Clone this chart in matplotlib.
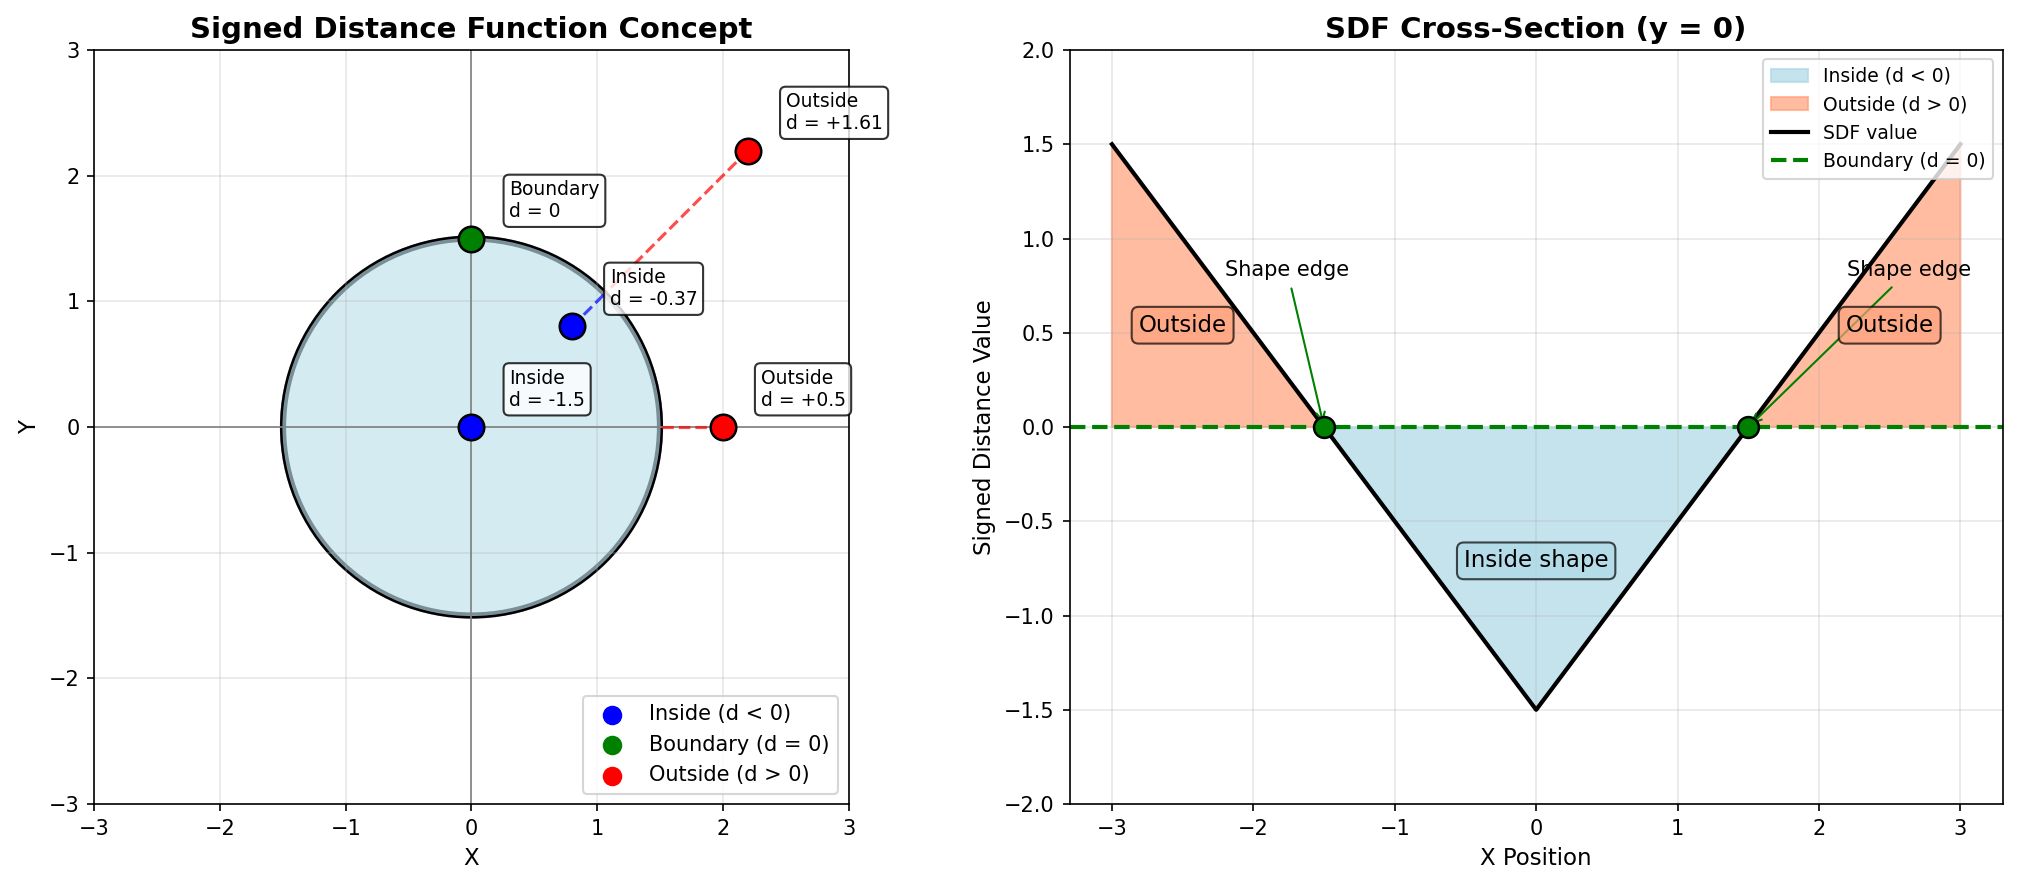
import numpy as np
import matplotlib
matplotlib.use("Agg")
import matplotlib.pyplot as plt
from matplotlib.patches import Circle

# Left panel: circle of radius 1.5 and sample points
radius = 1.5
pt_x = [0.0, 0.8, 0.0, 2.0, 2.2]
pt_y = [0.0, 0.8, 1.5, 0.0, 2.2]
pt_colors = ['blue', 'blue', 'green', 'red', 'red']
pt_labels = ['Inside\nd = -1.5', 'Inside\nd = -0.37', 'Boundary\nd = 0',
             'Outside\nd = +0.5', 'Outside\nd = +1.61']

# Right panel: cross-section at y = 0
x_pos = [-3.0, -1.5, 0.0, 1.5, 3.0]
sdf_vals = [1.5, 0.0, -1.5, 0.0, 1.5]
edge_x = [-1.5, 1.5]
edge_y = [0.0, 0.0]

fig = plt.figure(figsize=(13.453, 5.9), dpi=150)
ax1 = fig.add_axes([0.0461, 0.0915, 0.3751, 0.852])
ax2 = fig.add_axes([0.530, 0.0915, 0.4625, 0.852])

# --- grafico 1
ax1.add_patch(Circle((0, 0), radius, facecolor='lightblue', edgecolor='#1d3440',
                     linewidth=3, alpha=0.5))
ax1.add_patch(Circle((0, 0), radius + 0.014, fill=False, edgecolor='black', linewidth=1.2))
ax1.axhline(0, color='gray', linewidth=0.8)
ax1.axvline(0, color='gray', linewidth=0.8)

for x, y, c, lab in zip(pt_x, pt_y, pt_colors, pt_labels):
    r = np.hypot(x, y)
    if r > 0 and abs(r - radius) > 1e-6:
        bx, by = x / r * radius, y / r * radius
        ax1.plot([x, bx], [y, by], '--', color=c, alpha=0.7, linewidth=1.5)
    ax1.scatter([x], [y], s=150, c=c, edgecolors='black', linewidths=1.2, zorder=5)
    ax1.text(x + 0.3, y + 0.3, lab, fontsize=9, ha='left', va='center',
             bbox=dict(boxstyle='round,pad=0.3', facecolor='white', alpha=0.8))

ax1.scatter([], [], s=70, c='blue', label='Inside (d < 0)')
ax1.scatter([], [], s=70, c='green', label='Boundary (d = 0)')
ax1.scatter([], [], s=70, c='red', label='Outside (d > 0)')
ax1.legend(loc='lower right', fontsize=10)

ax1.set_xlim(-3, 3)
ax1.set_ylim(-3, 3)
ax1.set_aspect('equal')
ax1.grid(True, alpha=0.3)
ax1.set_xlabel('X', fontsize=11)
ax1.set_ylabel('Y', fontsize=11)
ax1.set_title('Signed Distance Function Concept', fontsize=14, fontweight='bold')

# --- grafico 2
xs = np.array(x_pos)
ys = np.array(sdf_vals)
ax2.fill_between(xs, ys, 0, where=(ys <= 0), color='lightblue', alpha=0.7,
                 interpolate=True, label='Inside (d < 0)')
ax2.fill_between(xs, ys, 0, where=(ys >= 0), color='#FFA07A', alpha=0.7,
                 interpolate=True, label='Outside (d > 0)')
ax2.plot(xs, ys, color='black', linewidth=2, label='SDF value')
ax2.axhline(0, color='green', linestyle='--', linewidth=2, label='Boundary (d = 0)')
ax2.scatter(edge_x, edge_y, s=100, c='green', edgecolors='black', linewidths=1.2, zorder=5)

ax2.annotate('Shape edge', xy=(-1.5, 0), xytext=(-2.2, 0.8), fontsize=10,
             arrowprops=dict(arrowstyle='->', color='green', lw=1))
ax2.annotate('Shape edge', xy=(1.5, 0), xytext=(2.2, 0.8), fontsize=10,
             arrowprops=dict(arrowstyle='->', color='green', lw=1))

ax2.text(-2.5, 0.54, 'Outside', fontsize=11, ha='center', va='center',
         bbox=dict(boxstyle='round,pad=0.3', facecolor='#FFA07A', alpha=0.7))
ax2.text(2.5, 0.54, 'Outside', fontsize=11, ha='center', va='center',
         bbox=dict(boxstyle='round,pad=0.3', facecolor='#FFA07A', alpha=0.7))
ax2.text(0, -0.71, 'Inside shape', fontsize=11, ha='center', va='center',
         bbox=dict(boxstyle='round,pad=0.3', facecolor='lightblue', alpha=0.7))

ax2.set_xlim(-3.3, 3.3)
ax2.set_ylim(-2, 2)
ax2.grid(True, alpha=0.3)
ax2.legend(loc='upper right', fontsize=9)
ax2.set_xlabel('X Position', fontsize=11)
ax2.set_ylabel('Signed Distance Value', fontsize=11)
ax2.set_title('SDF Cross-Section (y = 0)', fontsize=14, fontweight='bold')

fig.savefig('out.png', dpi=150)
